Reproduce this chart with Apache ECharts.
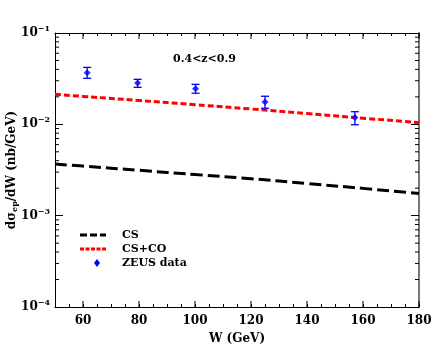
<!DOCTYPE html>
<html><head><meta charset="utf-8">
<script src="https://cdn.jsdelivr.net/npm/echarts@6/dist/echarts.min.js"></script>
<style>html,body{margin:0;padding:0;background:#fff}#c{width:436px;height:354px}</style>
</head><body><div id="c"></div>
<script>
// theory curves
var wGrid = [50, 60, 80, 100, 120, 140, 160, 180];
var csVals = [0.00367, 0.00349, 0.00314, 0.00282, 0.00254, 0.00225, 0.00199, 0.00175];
var csCoVals = [0.02133, 0.02023, 0.01824, 0.01641, 0.01472, 0.01312, 0.01169, 0.01042];
// ZEUS data
var zeusW = [61.5, 79.5, 100.2, 125, 157.1];
var zeusVals = [0.0367, 0.0283, 0.0245, 0.01755, 0.0119];
var zeusLow = [0.0319, 0.0254, 0.0219, 0.0150, 0.0099];
var zeusHigh = [0.0420, 0.0311, 0.0274, 0.0203, 0.01375];
// ticks
var xMajorTicks = [60, 80, 100, 120, 140, 160, 180];
var yDecades = [0.0001, 0.001, 0.01, 0.1];
var yMinorTicks = [];
for (var d = 0; d < 3; d++) { for (var m = 2; m <= 9; m++) { yMinorTicks.push(+(yDecades[d] * m).toPrecision(3)); } }
// legend
var legendNames = ['CS', 'CS+CO', 'ZEUS data'];

var FONT = 'DejaVu Serif';
var chart = echarts.init(document.getElementById('c'), null, {renderer: 'canvas'});

function pairs(xs, ys) { return xs.map(function (x, i) { return [x, ys[i]]; }); }

var supFmt = function (v) {
  var e = Math.round(Math.log10(v));
  return '{b|10}{s|\u2212' + Math.abs(e) + '}';
};

var LX = 80, LY = 235, LG = 14;
var dx = LX + 17, dy = LY + 2 * LG;
var legendGraphics = [
  {type: 'line', shape: {x1: LX, y1: LY, x2: LX + 26, y2: LY}, style: {stroke: '#000', lineWidth: 3, lineDash: [7, 3]}},
  {type: 'line', shape: {x1: LX, y1: LY + LG, x2: LX + 26, y2: LY + LG}, style: {stroke: '#ff0000', lineWidth: 3, lineDash: [4, 1.5]}},
  {type: 'polygon', shape: {points: [[dx, dy - 4], [dx + 3, dy], [dx, dy + 4], [dx - 3, dy]]}, style: {fill: '#0000ff'}}
];
legendNames.forEach(function (n, i) {
  legendGraphics.push({type: 'text', x: LX + 42, y: LY + i * LG,
    style: {text: n, font: 'bold 11px "DejaVu Serif"', fill: '#000', verticalAlign: 'middle', textAlign: 'left'}});
});
legendGraphics.push({
  type: 'text', x: 173, y: 54,
  style: {text: '0.4<z<0.9', font: 'bold 11px "DejaVu Serif"', fill: '#000'}
});

var option = {
  backgroundColor: '#fff',
  animation: false,
  grid: {left: 55, right: 17, top: 33, bottom: 47, containLabel: false, outerBoundsMode: 'none'},
  graphic: legendGraphics,
  xAxis: [{
    type: 'value', min: 50, max: 180, interval: 5, position: 'bottom',
    name: 'W (GeV)', nameLocation: 'middle', nameGap: 26, nameMoveOverlap: false,
    nameTextStyle: {fontFamily: FONT, fontWeight: 'bold', fontSize: 12, color: '#000'},
    axisLine: {show: true, onZero: false, lineStyle: {color: '#000', width: 1}},
    axisTick: {show: true, inside: true, length: 3, lineStyle: {color: '#000'}},
    axisLabel: {
      fontFamily: FONT, fontWeight: 'bold', fontSize: 12, color: '#000', margin: 8,
      formatter: function (v) { return (v % 20 === 0 && v > 50) ? String(v) : ''; }
    },
    splitLine: {show: false}
  }, {
    type: 'value', min: 50, max: 180, interval: 5, position: 'top',
    axisLine: {show: true, onZero: false, lineStyle: {color: '#000', width: 1}},
    axisTick: {show: true, inside: true, length: 3, lineStyle: {color: '#000'}},
    axisLabel: {show: false}, splitLine: {show: false}
  }],
  yAxis: [{
    type: 'log', min: 0.0001, max: 0.1, logBase: 10, position: 'left',
    name: '{n|d\u03c3}{sub|ep}{n|/dW (nb/GeV)}', nameLocation: 'middle', nameGap: 36, nameRotate: 90,
    nameMoveOverlap: false,
    nameTextStyle: {
      rich: {
        n: {fontFamily: FONT, fontWeight: 'bold', fontSize: 12, color: '#000'},
        sub: {fontFamily: FONT, fontWeight: 'bold', fontSize: 8, color: '#000', verticalAlign: 'bottom', padding: [6, 0, 0, 0]}
      }
    },
    axisLine: {show: true, onZero: false, lineStyle: {color: '#000', width: 1}},
    axisTick: {show: true, inside: true, length: 8, lineStyle: {color: '#000'}},
    axisLabel: {
      formatter: supFmt, margin: 5,
      rich: {
        b: {fontFamily: FONT, fontWeight: 'bold', fontSize: 12, color: '#000'},
        s: {fontFamily: FONT, fontWeight: 'bold', fontSize: 8, color: '#000', verticalAlign: 'top', padding: [0, 0, 8, 0]}
      }
    },
    splitLine: {show: false}
  }, {
    type: 'log', min: 0.0001, max: 0.1, logBase: 10, position: 'right',
    axisLine: {show: true, onZero: false, lineStyle: {color: '#777', width: 2}},
    axisTick: {show: true, inside: true, length: 8, lineStyle: {color: '#000'}},
    axisLabel: {show: false}, splitLine: {show: false}
  }],
  series: [{
    name: 'CS', type: 'line', data: pairs(wGrid, csVals), showSymbol: false, symbol: 'none', smooth: true,
    lineStyle: {color: '#000', width: 3, type: [12, 5]}, itemStyle: {color: '#000'}, z: 3
  }, {
    name: 'CS+CO', type: 'line', data: pairs(wGrid, csCoVals), showSymbol: false, symbol: 'none', smooth: true,
    lineStyle: {color: '#ff0000', width: 3, type: [6, 3]}, itemStyle: {color: '#ff0000'}, z: 3
  }, {
    name: 'ZEUS data', type: 'scatter', data: pairs(zeusW, zeusVals), symbol: 'diamond', symbolSize: 7,
    itemStyle: {color: '#0000ff'}, z: 5
  }, {
    name: 'err', type: 'custom', z: 4,
    data: zeusW.map(function (w, i) { return [w, zeusLow[i], zeusHigh[i]]; }),
    renderItem: function (params, api) {
      var lo = api.coord([api.value(0), api.value(1)]);
      var hi = api.coord([api.value(0), api.value(2)]);
      var hw = 4;
      var st = {stroke: '#0000ff', lineWidth: 1.3};
      return {type: 'group', children: [
        {type: 'line', shape: {x1: lo[0], y1: lo[1], x2: hi[0], y2: hi[1]}, style: st},
        {type: 'line', shape: {x1: lo[0] - hw, y1: lo[1], x2: lo[0] + hw, y2: lo[1]}, style: st},
        {type: 'line', shape: {x1: hi[0] - hw, y1: hi[1], x2: hi[0] + hw, y2: hi[1]}, style: st}
      ]};
    }
  }, {
    name: 'yminor', type: 'custom', z: 2, silent: true,
    data: yMinorTicks.map(function (v) { return [50, v]; }),
    renderItem: function (params, api) {
      var cs = params.coordSys;
      var p = api.coord([api.value(0), api.value(1)]);
      var st = {stroke: '#000', lineWidth: 1};
      return {type: 'group', children: [
        {type: 'line', shape: {x1: cs.x, y1: p[1], x2: cs.x + 4, y2: p[1]}, style: st},
        {type: 'line', shape: {x1: cs.x + cs.width - 4, y1: p[1], x2: cs.x + cs.width, y2: p[1]}, style: st}
      ]};
    }
  }, {
    name: 'xmajor', type: 'custom', z: 2, silent: true,
    data: xMajorTicks.map(function (v) { return [v, 0.001]; }),
    renderItem: function (params, api) {
      var cs = params.coordSys;
      var p = api.coord([api.value(0), api.value(1)]);
      var st = {stroke: '#000', lineWidth: 1};
      return {type: 'group', children: [
        {type: 'line', shape: {x1: p[0], y1: cs.y + cs.height, x2: p[0], y2: cs.y + cs.height - 6}, style: st},
        {type: 'line', shape: {x1: p[0], y1: cs.y, x2: p[0], y2: cs.y + 6}, style: st}
      ]};
    }
  }]
};
chart.setOption(option);
</script></body></html>
